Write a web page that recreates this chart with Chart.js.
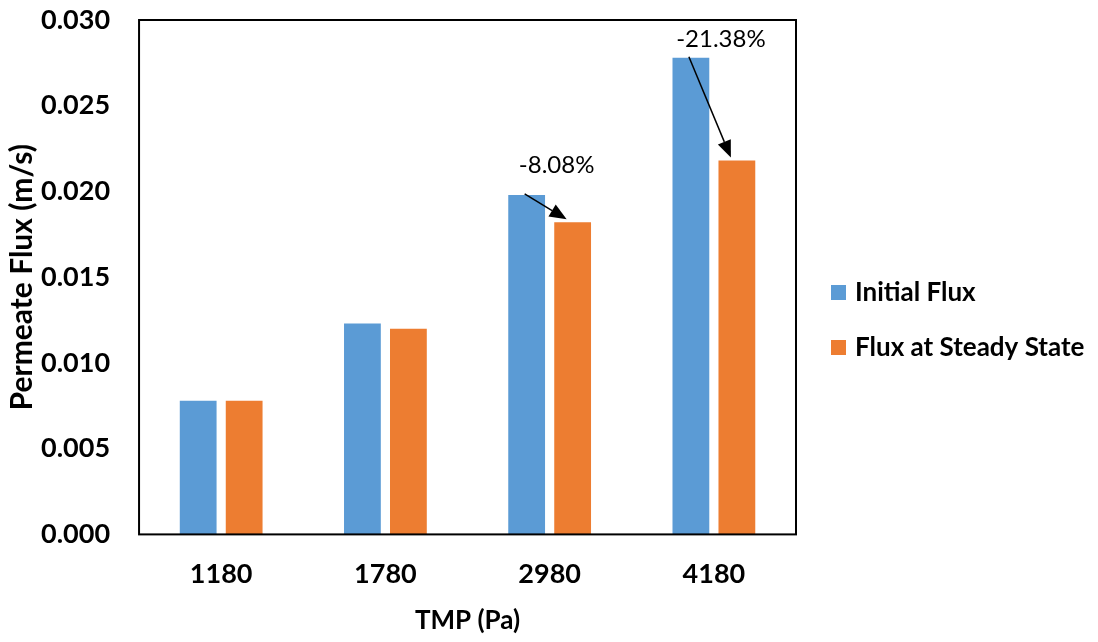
<!DOCTYPE html>
<html>
<head>
<meta charset="utf-8">
<script src="https://cdn.jsdelivr.net/npm/chart.js@4/dist/chart.umd.min.js"></script>
<style>
  html, body { margin: 0; padding: 0; background: #fff; }
  #wrap { width: 1098px; height: 642px; }
</style>
</head>
<body>
<div id="wrap"><canvas id="chart" width="1098" height="642"></canvas></div>
<script>
const categories = ['1180', '1780', '2980', '4180'];
const initialFlux = [0.0078, 0.0123, 0.0198, 0.0278];
const steadyFlux = [0.0078, 0.0120, 0.0182, 0.0218];
const changeLabels = ['', '', '-8.08%', '-21.38%'];
const yMin = 0;
const yMax = 0.030;
const yStep = 0.005;

const fontFamily = 'Lato, "Open Sans", sans-serif';

// box round the plot area
const frame = {
    id: 'frame',
    afterDraw: (chart) => {
        const { ctx, chartArea: a } = chart;
        ctx.save();
        ctx.strokeStyle = '#000';
        ctx.lineWidth = 2;
        ctx.strokeRect(a.left, a.top, a.right - a.left, a.bottom - a.top);
        ctx.restore();
    },
};

// legend on the right, built from the datasets
const sideLegend = {
    id: 'sideLegend',
    afterDraw: (chart) => {
        const { ctx, chartArea } = chart;
        const mid = chart.height / 2;
        ctx.save();
        ctx.font = 'bold 26px ' + fontFamily;
        ctx.textAlign = 'left';
        ctx.textBaseline = 'middle';
        chart.data.datasets.forEach((ds, i) => {
            const y = mid + (i - 0.5) * 55 - 1;
            ctx.fillStyle = ds.backgroundColor;
            ctx.fillRect(chartArea.right + 35, y - 7.5, 15, 15);
            ctx.fillStyle = '#000';
            ctx.fillText(ds.label, chartArea.right + 59, y);
        });
        ctx.restore();
    },
};

// arrows from initial to steady bars, with the drop in percent
const dropArrows = {
    id: 'dropArrows',
    afterDatasetsDraw: (chart) => {
        const { ctx } = chart;
        const blue = chart.getDatasetMeta(0).data;
        const orange = chart.getDatasetMeta(1).data;
        const textLift = { 2: 22, 3: 11 };
        ctx.save();
        changeLabels.forEach((label, i) => {
            if (!label) return;
            const x1 = blue[i].x - 2;
            const y1 = blue[i].y - 1;
            const x2 = orange[i].x - 6;
            const y2 = orange[i].y - 3;
            const ang = Math.atan2(y2 - y1, x2 - x1);
            const len = 17;
            const half = 7;
            const bx = x2 - len * Math.cos(ang);
            const by = y2 - len * Math.sin(ang);

            ctx.strokeStyle = '#000';
            ctx.fillStyle = '#000';
            ctx.lineWidth = 1.5;
            ctx.beginPath();
            ctx.moveTo(x1, y1);
            ctx.lineTo(bx, by);
            ctx.stroke();

            ctx.beginPath();
            ctx.moveTo(x2, y2);
            ctx.lineTo(bx + half * Math.sin(ang), by - half * Math.cos(ang));
            ctx.lineTo(bx - half * Math.sin(ang), by + half * Math.cos(ang));
            ctx.closePath();
            ctx.fill();

            ctx.font = '24px ' + fontFamily;
            ctx.textAlign = 'center';
            ctx.textBaseline = 'alphabetic';
            const tx = (blue[i].x + orange[i].x) / 2 + 7;
            ctx.fillText(label, tx, blue[i].y - textLift[i]);
        });
        ctx.restore();
    },
};

const config = {
    type: 'bar',
    data: {
        labels: categories,
        datasets: [
            {
                label: 'Initial Flux',
                data: initialFlux,
                backgroundColor: '#5B9BD5',
                categoryPercentage: 0.56,
                barPercentage: 0.8,
            },
            {
                label: 'Flux at Steady State',
                data: steadyFlux,
                backgroundColor: '#ED7D31',
                categoryPercentage: 0.56,
                barPercentage: 0.8,
            },
        ],
    },
    options: {
        responsive: false,
        animation: false,
        layout: { padding: { top: 6, left: 4, right: 302, bottom: 6 } },
        plugins: {
            tooltip: { enabled: false },
            legend: { display: false },
        },
        scales: {
            x: {
                grid: { display: false, drawTicks: false },
                border: { display: false },
                ticks: {
                    color: '#000',
                    padding: 24,
                    font: { family: fontFamily, size: 27, weight: 'bold' },
                },
                title: {
                    display: true,
                    text: 'TMP (Pa)',
                    color: '#000',
                    padding: { top: -10, bottom: 0 },
                    font: { family: fontFamily, size: 26, weight: 'bold' },
                },
            },
            y: {
                min: yMin,
                max: yMax,
                grid: { display: false, drawTicks: false },
                border: { display: false },
                afterFit: (scale) => {
                    scale.paddingTop = 20;
                },
                ticks: {
                    stepSize: yStep,
                    color: '#000',
                    padding: 29,
                    font: { family: fontFamily, size: 27, weight: 'bold' },
                    callback: (v) => v.toFixed(3),
                },
                title: {
                    display: true,
                    text: 'Permeate Flux (m/s)',
                    color: '#000',
                    padding: { top: 0, bottom: -28 },
                    font: { family: fontFamily, size: 30, weight: 'bold' },
                },
            },
        },
    },
    plugins: [frame, sideLegend, dropArrows],
};

new Chart(document.querySelector('#chart'), config);
</script>
</body>
</html>
